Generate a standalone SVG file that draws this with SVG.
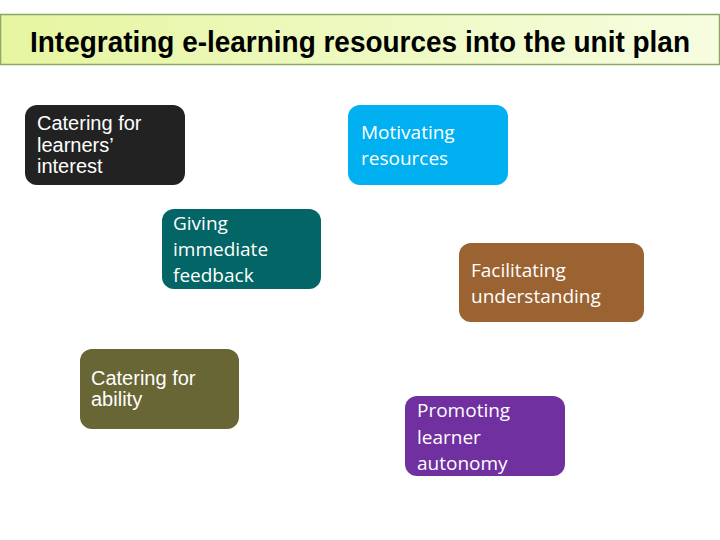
<svg xmlns="http://www.w3.org/2000/svg" width="720" height="540" viewBox="0 0 720 540">
<defs>
<linearGradient id="tg" x1="0" y1="0" x2="1" y2="0">
<stop offset="0" stop-color="#e6f5a0"/>
<stop offset="1" stop-color="#f6fde0"/>
</linearGradient>
<style>
.box{stroke:none}
.t{font-family:"Liberation Sans","DejaVu Sans",sans-serif;font-size:20px;fill:#ffffff}
.tl{font-family:"Open Sans","DejaVu Sans",sans-serif;font-size:19px;fill:#ffffff}
.title{font-family:"Liberation Sans","DejaVu Sans",sans-serif;font-size:29px;font-weight:bold;fill:#000000}
</style>
</defs>
<rect width="720" height="540" fill="#ffffff"/>
<g id="title">
<rect x="0.5" y="14.5" width="719" height="50" fill="url(#tg)" stroke="#8ca864" stroke-width="1.5"/>
<text class="title" x="30" y="52" textLength="660" lengthAdjust="spacingAndGlyphs">Integrating e-learning resources into the unit plan</text>
</g>
<g id="connectors"></g>
<g id="interest">
<rect class="box" x="25" y="105" width="160" height="80" rx="12" fill="#222222"/>
<text class="t" x="37" y="130">Catering for</text>
<text class="t" x="37" y="152">learners’</text>
<text class="t" x="37" y="173">interest</text>
</g>
<g id="motivating">
<rect class="box" x="348" y="105" width="160" height="80" rx="12" fill="#00b0f0"/>
<text class="tl" x="361" y="139">Motivating</text>
<text class="tl" x="361" y="165">resources</text>
</g>
<g id="feedback">
<rect class="box" x="162" y="209" width="159" height="80" rx="12" fill="#036565"/>
<text class="tl" x="173" y="230">Giving</text>
<text class="tl" x="173" y="256">immediate</text>
<text class="tl" x="173" y="282">feedback</text>
</g>
<g id="understanding">
<rect class="box" x="459" y="243" width="185" height="79" rx="12" fill="#9a6331"/>
<text class="tl" x="471" y="277">Facilitating</text>
<text class="tl" x="471" y="303">understanding</text>
</g>
<g id="ability">
<rect class="box" x="80" y="349" width="159" height="80" rx="12" fill="#676634"/>
<text class="t" x="91" y="385">Catering for</text>
<text class="t" x="91" y="406">ability</text>
</g>
<g id="autonomy">
<rect class="box" x="405" y="396" width="160" height="80" rx="12" fill="#7030a0"/>
<text class="tl" x="417" y="417">Promoting</text>
<text class="tl" x="417" y="444">learner</text>
<text class="tl" x="417" y="470">autonomy</text>
</g>
</svg>
